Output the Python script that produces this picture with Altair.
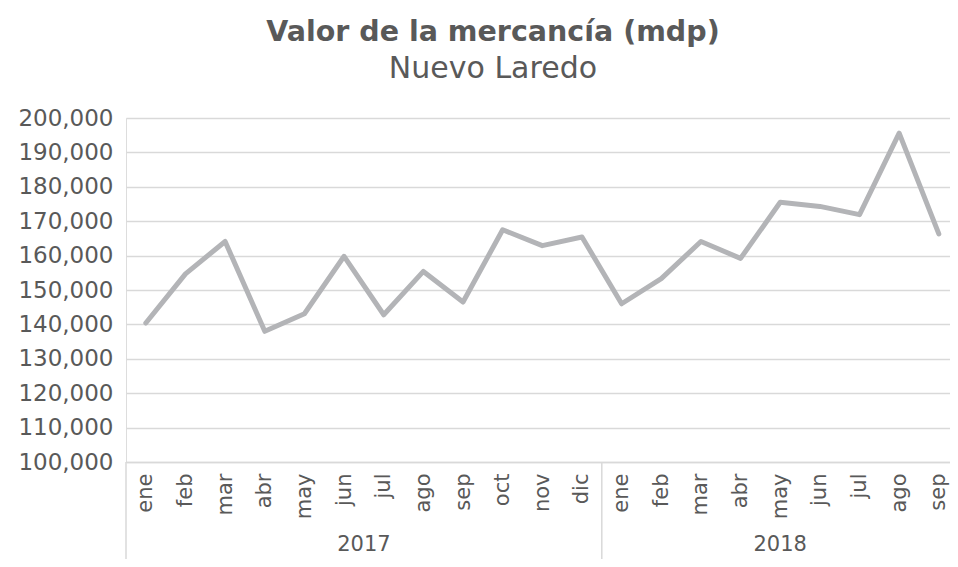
import altair as alt
import pandas as pd

months = ["ene", "feb", "mar", "abr", "may", "jun", "jul", "ago", "sep", "oct", "nov", "dic",
          "ene", "feb", "mar", "abr", "may", "jun", "jul", "ago", "sep"]
years = ["2017"] * 12 + ["2018"] * 9
values = [140400, 154700, 164100, 138000, 143100, 159800, 142800, 155400, 146500, 167500, 162900, 165400,
          146000, 153300, 164100, 159200, 175500, 174300, 171900, 195600, 166300]
y_ticks = [100000, 110000, 120000, 130000, 140000, 150000, 160000, 170000, 180000, 190000, 200000]

FONT = "DejaVu Sans"
TXT = "#595959"
GRID = "#d9d9d9"
W, H = 824, 344
SLOT = 39.65
XMAX = W / SLOT

df = pd.DataFrame({"idx": [i + 0.5 for i in range(len(months))], "mes": months,
                   "anio": years, "valor": values})

# year groups
groups = []
for y in dict.fromkeys(years):
    start = years.index(y)
    n = years.count(y)
    groups.append({"anio": y, "start": start, "center": start + n / 2})
gdf = pd.DataFrame(groups)

label_expr = "[" + ",".join(f"'{m}'" for m in months) + "][floor(datum.value)]"

xscale = alt.Scale(domain=[0, XMAX], nice=False, zero=False)

line = alt.Chart(df).mark_line(color="#b3b4b7", strokeWidth=5, strokeJoin="round", strokeCap="round").encode(
    x=alt.X("idx:Q", scale=xscale, title=None,
            axis=alt.Axis(values=[i + 0.5 for i in range(len(months))], labelExpr=label_expr,
                          labelAngle=-90, labelFlush=False, labelOverlap=False, grid=False, ticks=False,
                          domain=True, domainColor=GRID, domainWidth=1.5, labelPadding=11,
                          labelFont=FONT, labelFontSize=21, labelColor=TXT)),
    y=alt.Y("valor:Q", scale=alt.Scale(domain=[100000, 200000], nice=False, zero=False), title=None,
            axis=alt.Axis(values=y_ticks, format=",.0f", grid=True, gridColor=GRID, gridWidth=1.5,
                          domain=False, ticks=False, labelPadding=13,
                          labelFont=FONT, labelFontSize=23, labelColor=TXT)),
)

seps = alt.Chart(gdf).mark_rule(color=GRID, strokeWidth=1.5).encode(
    x=alt.X("start:Q", scale=xscale),
    y=alt.value(H),
    y2=alt.value(H + 97),
)

year_text = alt.Chart(gdf).mark_text(font=FONT, fontSize=21, color=TXT, baseline="middle").encode(
    x=alt.X("center:Q", scale=xscale),
    y=alt.value(H + 83),
    text="anio:N",
)

chart = alt.layer(line, seps, year_text).properties(
    width=W, height=H,
    autosize=alt.AutoSizeParams(type="none"),
    padding={"left": 118, "top": 110, "right": 0, "bottom": 97},
    title=alt.TitleParams(text="Valor de la mercancía (mdp)", subtitle="Nuevo Laredo",
                          font=FONT, fontSize=28.5, fontWeight="bold", color=TXT,
                          subtitleFont=FONT, subtitleFontSize=30, subtitleColor=TXT,
                          subtitlePadding=8, anchor="middle", frame="bounds", offset=23, dx=9),
).configure_view(stroke=None).configure(background="white")

chart.save("out.html", embed_options={"renderer": "svg", "actions": False})
